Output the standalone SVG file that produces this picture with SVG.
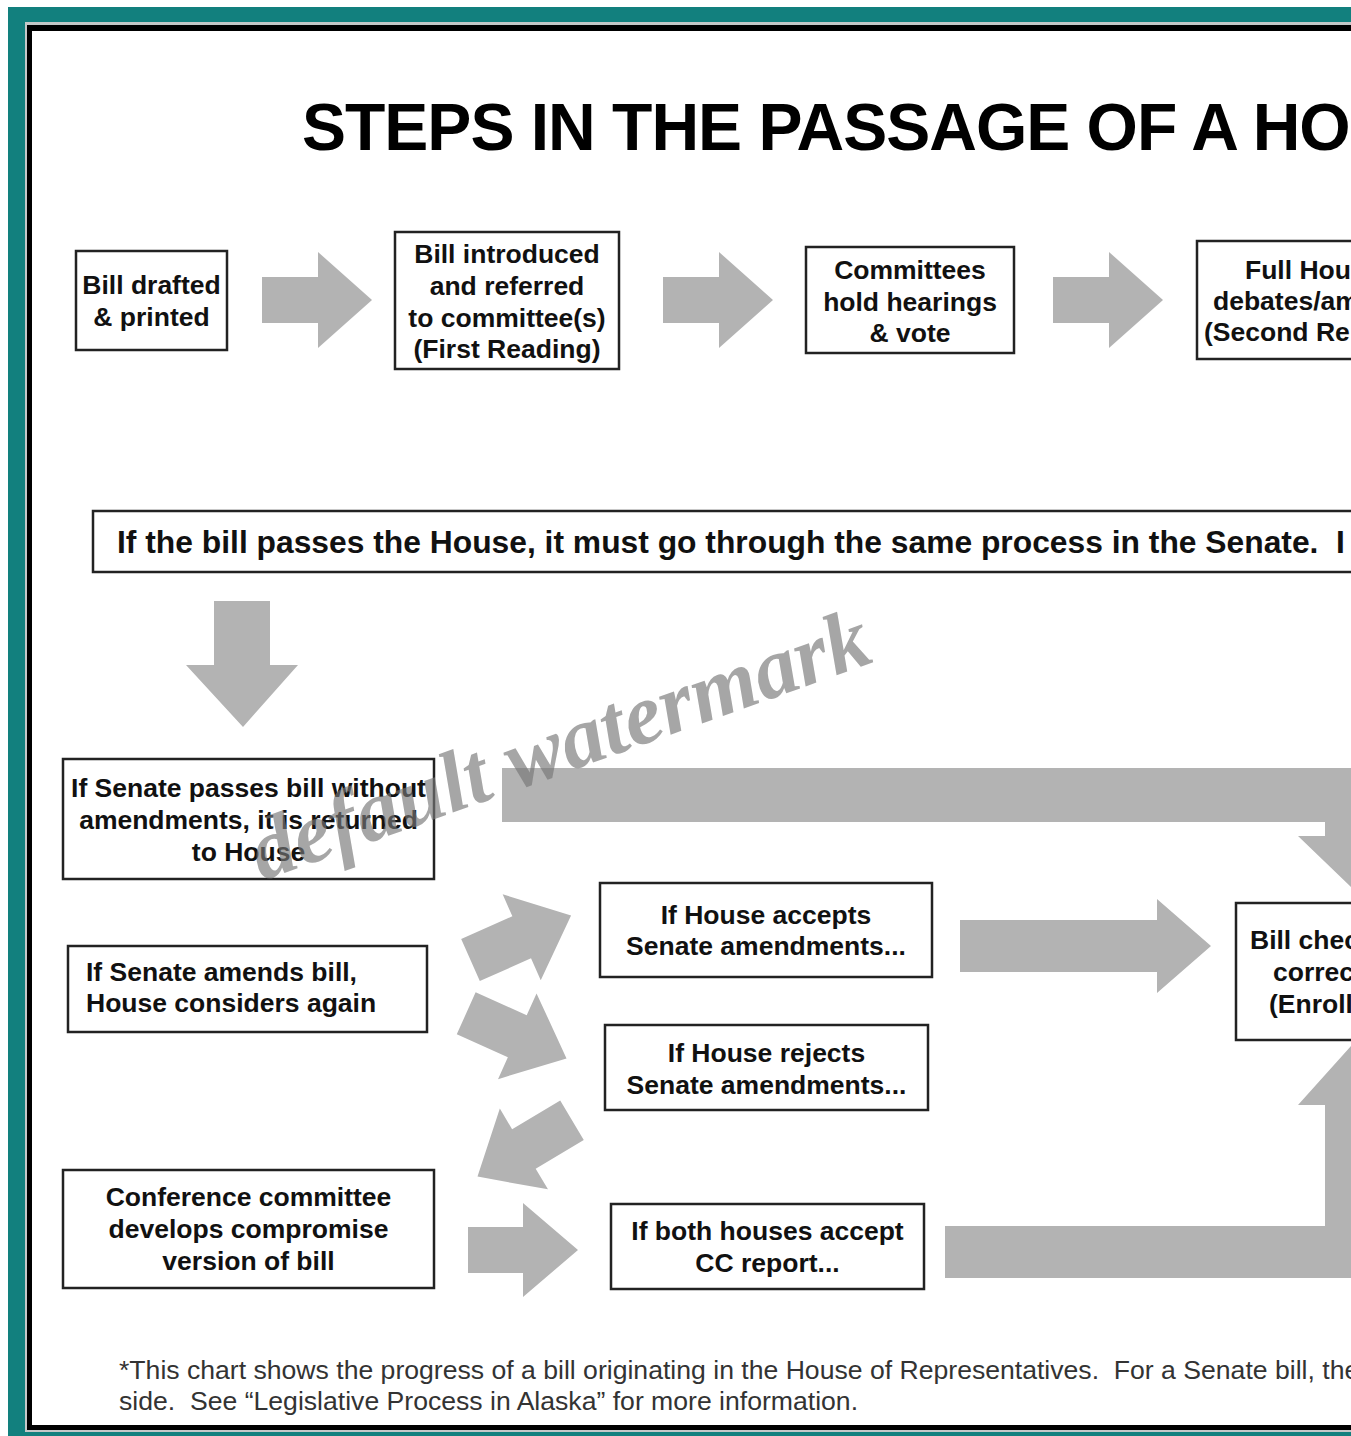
<svg xmlns="http://www.w3.org/2000/svg" width="1351" height="1436" viewBox="0 0 1351 1436">
<style>
.box{fill:#fff;stroke:#222;stroke-width:2.5}
.t{font-family:"Liberation Sans",Arial,sans-serif;font-weight:bold;font-size:26.5px;fill:#111}
.c{text-anchor:middle}
.arr{fill:#b3b3b3}
.foot{font-family:"Liberation Sans",Arial,sans-serif;font-size:26.6px;fill:#333;white-space:pre}
</style>
<defs>
<polygon id="sarrow" points="0,-23 56,-23 56,-47 110,0 56,47 56,23 0,23"/>
</defs>
<rect width="1351" height="1436" fill="#fff"/>
<g id="frame">
<rect x="8" y="7" width="1400" height="1440" fill="#12807e"/>
<rect x="25" y="22" width="1400" height="1410" fill="#c4c8c8"/>
<rect x="27" y="25" width="1400" height="1405" fill="#000"/>
<rect x="32" y="31" width="1400" height="1394" fill="#fff"/>
</g>
<text id="title" x="302" y="150" style="font-family:'Liberation Sans',Arial,sans-serif;font-weight:bold;font-size:66px;letter-spacing:-1px;fill:#000">STEPS IN THE PASSAGE OF A HO</text>
<g id="connectors">
<polygon class="arr" points="262,277 318,277 318,252 372,300 318,348 318,323 262,323"/>
<polygon class="arr" points="663,277 719,277 719,252 773,300 719,348 719,323 663,323"/>
<polygon class="arr" points="1053,277 1109,277 1109,252 1163,300 1109,348 1109,323 1053,323"/>
<polygon class="arr" points="214,601 270,601 270,665 298,665 243,727 186,665 214,665"/>
<path class="arr" d="M502,768 H1378 V836 H1404 L1351,887 L1298,836 H1325 V822 H502 Z"/>
<use href="#sarrow" class="arr" transform="translate(470.5,960) rotate(-23.9)"/>
<use href="#sarrow" class="arr" transform="translate(466.2,1013.3) rotate(24.2)"/>
<use href="#sarrow" class="arr" transform="translate(572,1120.3) rotate(149.2)"/>
<polygon class="arr" points="468,1227 523,1227 523,1203 578,1250 523,1297 523,1273 468,1273"/>
<polygon class="arr" points="960,920 1157,920 1157,899 1211,946 1157,993 1157,972 960,972"/>
<path class="arr" d="M945,1226 H1325 V1105 H1298 L1351,1046 L1404,1105 H1378 V1278 H945 Z"/>
</g>
<g id="n_drafted">
<rect class="box" x="76" y="251" width="151" height="99"/>
<text class="t c" x="151.5" y="294">Bill drafted</text>
<text class="t c" x="151.5" y="326">&amp; printed</text>
</g>
<g id="n_introduced">
<rect class="box" x="395" y="232" width="224" height="137"/>
<text class="t c" x="507" y="263">Bill introduced</text>
<text class="t c" x="507" y="295">and referred</text>
<text class="t c" x="507" y="327">to committee(s)</text>
<text class="t c" x="507" y="358">(First Reading)</text>
</g>
<g id="n_committees">
<rect class="box" x="806" y="247" width="208" height="106"/>
<text class="t c" x="910" y="279">Committees</text>
<text class="t c" x="910" y="311">hold hearings</text>
<text class="t c" x="910" y="342">&amp; vote</text>
</g>
<g id="n_fullhouse">
<rect class="box" x="1197" y="241" width="220" height="118"/>
<text class="t" x="1245" y="279">Full Hou</text>
<text class="t" x="1213" y="310">debates/am</text>
<text class="t" x="1204" y="341">(Second Re</text>
</g>
<g id="n_senate">
<rect class="box" x="93" y="511" width="1400" height="61"/>
<text class="t" x="117" y="553" style="font-size:31.8px;white-space:pre">If the bill passes the House, it must go through the same process in the Senate.  I</text>
</g>
<g id="n_nosenateamend">
<rect class="box" x="63" y="759" width="371" height="120"/>
<text class="t c" x="248.5" y="797">If Senate passes bill without</text>
<text class="t c" x="248.5" y="829">amendments, it is returned</text>
<text class="t c" x="248.5" y="861">to House</text>
</g>
<g id="n_amends">
<rect class="box" x="68" y="946" width="359" height="86"/>
<text class="t" x="86" y="981">If Senate amends bill,</text>
<text class="t" x="86" y="1012">House considers again</text>
</g>
<g id="n_accepts">
<rect class="box" x="600" y="883" width="332" height="94"/>
<text class="t c" x="766" y="924">If House accepts</text>
<text class="t c" x="766" y="955">Senate amendments...</text>
</g>
<g id="n_rejects">
<rect class="box" x="605" y="1025" width="323" height="85"/>
<text class="t c" x="766.5" y="1062">If House rejects</text>
<text class="t c" x="766.5" y="1094">Senate amendments...</text>
</g>
<g id="n_conference">
<rect class="box" x="63" y="1170" width="371" height="118"/>
<text class="t c" x="248.5" y="1206">Conference committee</text>
<text class="t c" x="248.5" y="1238">develops compromise</text>
<text class="t c" x="248.5" y="1270">version of bill</text>
</g>
<g id="n_both">
<rect class="box" x="611" y="1204" width="313" height="85"/>
<text class="t c" x="767.5" y="1240">If both houses accept</text>
<text class="t c" x="767.5" y="1272">CC report...</text>
</g>
<g id="n_enrolled">
<rect class="box" x="1236" y="903" width="200" height="137"/>
<text class="t" x="1250" y="949">Bill chec</text>
<text class="t" x="1273" y="981">correc</text>
<text class="t" x="1269" y="1013">(Enroll</text>
</g>
<g id="footnote">
<text class="foot" x="119" y="1379">*This chart shows the progress of a bill originating in the House of Representatives.  For a Senate bill, the</text>
<text class="foot" x="119" y="1410">side.  See “Legislative Process in Alaska” for more information.</text>
</g>
<text id="watermark" transform="translate(262,881) rotate(-19.7)" style="font-family:'Liberation Serif','Times New Roman',serif;font-weight:bold;font-style:italic;font-size:86px;fill:#777;opacity:0.65">default watermark</text>
</svg>
